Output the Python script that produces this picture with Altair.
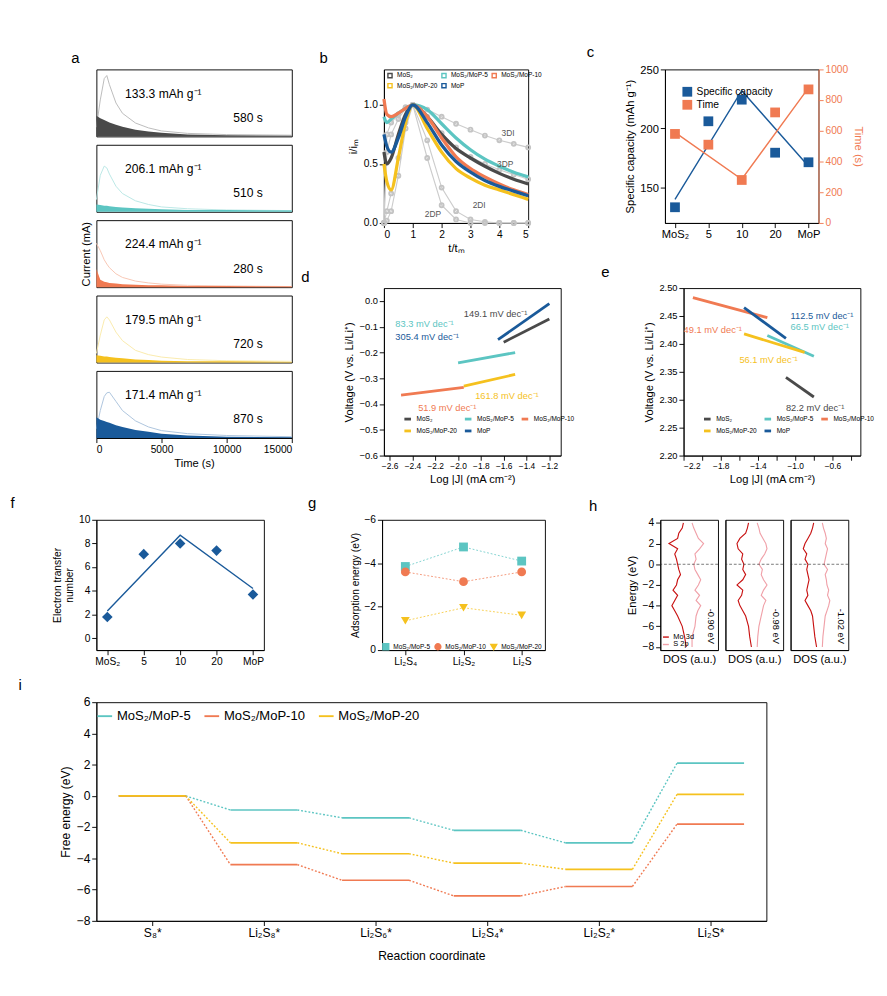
import altair as alt
import pandas as pd

F = "Liberation Sans"
NAMES = ["MoS₂", "MoS₂/MoP-5", "MoS₂/MoP-10", "MoS₂/MoP-20", "MoP"]
COLS = ["#4a4a4a", "#5cc5c2", "#f07a52", "#f5c11e", "#1a5a9a"]
LIGHT = ["#b8b8b8", "#b7e6e4", "#f8c4b0", "#faeaa8", "#a9c2dc"]
cscale = alt.Scale(domain=NAMES, range=COLS)

def ttl(letter, dx):
    return alt.TitleParams(letter, anchor="start", fontSize=16, fontWeight="normal", dx=dx)

# ---------- panel a ----------
a_t = [0, 300, 600, 800, 1000, 1500, 2000, 3000, 4000, 5000, 7000, 10000, 15000]
a_line = [
    [0.15, 0.6, 0.95, 1.0, 0.85, 0.55, 0.38, 0.22, 0.14, 0.09, 0.05, 0.03, 0.02],
    [0.2, 0.6, 0.75, 0.72, 0.62, 0.42, 0.3, 0.18, 0.12, 0.08, 0.05, 0.03, 0.02],
    [0.72, 0.6, 0.45, 0.38, 0.32, 0.22, 0.16, 0.1, 0.07, 0.05, 0.03, 0.02, 0.01],
    [0.15, 0.45, 0.7, 0.75, 0.7, 0.5, 0.36, 0.2, 0.13, 0.09, 0.05, 0.03, 0.02],
    [0.15, 0.45, 0.68, 0.74, 0.75, 0.6, 0.45, 0.28, 0.18, 0.12, 0.07, 0.04, 0.02],
]
a_area = [
    [0.34, 0.3, 0.27, 0.25, 0.23, 0.19, 0.16, 0.11, 0.08, 0.06, 0.03, 0.02, 0.01],
    [0.12, 0.11, 0.1, 0.1, 0.09, 0.08, 0.07, 0.06, 0.05, 0.04, 0.03, 0.03, 0.02],
    [0.3, 0.12, 0.09, 0.08, 0.07, 0.06, 0.05, 0.04, 0.03, 0.03, 0.02, 0.02, 0.01],
    [0.12, 0.11, 0.1, 0.1, 0.09, 0.08, 0.07, 0.05, 0.04, 0.03, 0.02, 0.02, 0.01],
    [0.34, 0.3, 0.28, 0.26, 0.25, 0.21, 0.18, 0.13, 0.1, 0.07, 0.04, 0.02, 0.01],
]
a_cap = ["133.3 mAh g⁻¹", "206.1 mAh g⁻¹", "224.4 mAh g⁻¹", "179.5 mAh g⁻¹", "171.4 mAh g⁻¹"]
a_time = ["580 s", "510 s", "280 s", "720 s", "870 s"]

a_panels = []
for k in range(5):
    d = pd.DataFrame({"t": a_t, "l": a_line[k], "a": a_area[k]})
    last = k == 4
    xax = alt.Axis(title="Time (s)", tickCount=3, format="d", grid=False) if last else None
    yt = "Current (mA)" if k == 2 else None
    x = alt.X("t:Q", scale=alt.Scale(domain=[0, 15000], nice=False), axis=xax)
    y = alt.Y("l:Q", scale=alt.Scale(domain=[0, 1.08]), axis=alt.Axis(title=yt, labels=False, ticks=False, grid=False, domain=False))
    base = alt.Chart(d)
    line = base.mark_line(color=LIGHT[k], strokeWidth=1).encode(x=x, y=y)
    area = base.mark_area(color=COLS[k]).encode(x=x, y=alt.Y("a:Q"))
    txt = pd.DataFrame({"t": [2200, 10500], "v": [0.7, 0.3], "s": [a_cap[k], a_time[k]]})
    tx = alt.Chart(txt).mark_text(align="left", fontSize=13, font=F).encode(x="t:Q", y="v:Q", text="s:N")
    p = alt.layer(line, area, tx).properties(width=210, height=72)
    if k == 0:
        p = p.properties(title=ttl("a", -25))
    a_panels.append(p)
panel_a = alt.vconcat(*a_panels, spacing=6)

# ---------- panel b ----------
b_t = [0, 0.1, 0.25, 0.5, 0.75, 1, 1.5, 2, 2.5, 3, 3.5, 4, 4.5, 5]
b_vals = {
    "MoS₂": [0.6, 0.5, 0.55, 0.75, 0.92, 1, 0.9, 0.75, 0.63, 0.55, 0.48, 0.42, 0.37, 0.33],
    "MoS₂/MoP-5": [0.9, 0.85, 0.88, 0.93, 0.97, 1, 0.96, 0.84, 0.72, 0.62, 0.54, 0.48, 0.43, 0.39],
    "MoS₂/MoP-10": [1.05, 0.92, 0.9, 0.93, 0.97, 1, 0.9, 0.72, 0.56, 0.46, 0.39, 0.33, 0.28, 0.24],
    "MoS₂/MoP-20": [0.5, 0.35, 0.28, 0.55, 0.85, 1, 0.8, 0.6, 0.46, 0.38, 0.32, 0.28, 0.24, 0.2],
    "MoP": [0.75, 0.65, 0.6, 0.72, 0.9, 1, 0.85, 0.66, 0.52, 0.43, 0.36, 0.31, 0.27, 0.23],
}
b_theory = {
    "3DI": [0, 0.75, 0.85, 0.92, 0.98, 1, 0.96, 0.9, 0.84, 0.79, 0.74, 0.7, 0.67, 0.64],
    "3DP": [0, 0.6, 0.75, 0.88, 0.97, 1, 0.9, 0.76, 0.64, 0.56, 0.5, 0.45, 0.41, 0.37],
    "2DI": [0, 0.1, 0.25, 0.55, 0.85, 1, 0.7, 0.3, 0.1, 0.03, 0.01, 0, 0, 0],
    "2DP": [0, 0.02, 0.1, 0.4, 0.8, 1, 0.55, 0.15, 0.03, 0, 0, 0, 0, 0],
}
rows = [{"s": s, "t": t, "v": v} for s, vs in b_vals.items() for t, v in zip(b_t, vs)]
trows = [{"s": s, "t": t, "v": v} for s, vs in b_theory.items() for t, v in zip(b_t, vs)]
bx = alt.X("t:Q", scale=alt.Scale(domain=[0, 5]), axis=alt.Axis(title="t/tₘ", grid=False, tickCount=5))
by = alt.Y("v:Q", scale=alt.Scale(domain=[0, 1.25]), axis=alt.Axis(title="i/iₘ", grid=False, values=[0, 0.5, 1.0], format=".1f"))
b_th = alt.Chart(pd.DataFrame(trows)).mark_line(color="#cccccc", strokeWidth=1.2, point=alt.OverlayMarkDef(filled=False, color="#c4c4c4", size=18)).encode(x=bx, y=by, detail="s:N")
b_ln = alt.Chart(pd.DataFrame(rows)).mark_line(strokeWidth=3.5, interpolate="monotone").encode(
    x=bx, y=by, color=alt.Color("s:N", scale=cscale, legend=alt.Legend(title=None, orient="top-left", direction="horizontal", columns=3, labelFontSize=7, labelLimit=48, symbolType="square", symbolSize=20, columnPadding=1, rowPadding=0, padding=1, offset=2)))
b_lab = pd.DataFrame({"t": [4.3, 4.2, 3.3, 1.7], "v": [0.76, 0.5, 0.15, 0.07], "s": ["3DI", "3DP", "2DI", "2DP"]})
b_tx = alt.Chart(b_lab).mark_text(fontSize=9, color="#555", font=F).encode(x="t:Q", y="v:Q", text="s:N")
panel_b = alt.layer(b_th, b_ln, b_tx).properties(width=155, height=165, title=ttl("b", -30))

# ---------- panel c ----------
c_cat = ["MoS₂", "5", "10", "20", "MoP"]
c_cap = [133.3, 206.1, 224.4, 179.5, 171.4]
c_time = [580, 510, 280, 720, 870]
c_fitcap = [140, None, 232, None, 168]
c_fittime = [590, None, 285, None, 880]
cd = pd.DataFrame({"c": c_cat, "cap": c_cap, "time": c_time, "k1": "Specific capacity", "k2": "Time"})
cf1 = pd.DataFrame({"c": [c for c, v in zip(c_cat, c_fitcap) if v], "cap": [v for v in c_fitcap if v]})
cf2 = pd.DataFrame({"c": [c for c, v in zip(c_cat, c_fittime) if v], "time": [v for v in c_fittime if v]})
cx = alt.X("c:N", sort=c_cat, axis=alt.Axis(title=None, labelAngle=0, labelFontSize=12), scale=alt.Scale(domain=c_cat, padding=0.3))
ccol = alt.Scale(domain=["Specific capacity", "Time"], range=["#1a5a9a", "#f07a52"])
y1 = alt.Y("cap:Q", scale=alt.Scale(domain=[125, 250]), axis=alt.Axis(title="Specific capacity (mAh g⁻¹)", tickCount=3, grid=False, titleFontSize=12, labelFontSize=12))
y2 = alt.Y("time:Q", scale=alt.Scale(domain=[0, 1000]), axis=alt.Axis(title="Time (s)", orient="right", tickCount=4, format="d", grid=False, titleColor="#f07a52", labelColor="#f07a52", domainColor="#f07a52", tickColor="#f07a52"))
c1 = alt.layer(
    alt.Chart(cd).mark_square(size=110, opacity=1).encode(x=cx, y=y1, color=alt.Color("k1:N", scale=ccol, legend=alt.Legend(title=None, orient="top-left", labelFontSize=11, symbolSize=110))),
    alt.Chart(cf1).mark_line(color="#1a5a9a", strokeWidth=1.5).encode(x=cx, y="cap:Q"),
)
c2 = alt.layer(
    alt.Chart(cd).mark_square(size=110, opacity=1).encode(x=cx, y=y2, color=alt.Color("k2:N", scale=ccol)),
    alt.Chart(cf2).mark_line(color="#f07a52", strokeWidth=1.5).encode(x=cx, y="time:Q"),
)
panel_c = alt.layer(c1, c2).resolve_scale(y="independent").properties(width=165, height=165, title=ttl("c", -40))

# ---------- panels d, e ----------
def tafel(seg, labs, xd, yd, xtc, ytc, letter, yfmt):
    rows = []
    for s, (x1, y1_, x2, y2_) in zip(NAMES, seg):
        rows += [{"s": s, "x": x1, "y": y1_}, {"s": s, "x": x2, "y": y2_}]
    X = alt.X("x:Q", scale=alt.Scale(domain=xd, nice=False), axis=alt.Axis(title="Log |J| (mA cm⁻²)", tickCount=xtc, format=".1f", grid=False, labelFontSize=9))
    Y = alt.Y("y:Q", scale=alt.Scale(domain=yd, nice=False), axis=alt.Axis(title="Voltage (V vs. Li/Li⁺)", tickCount=ytc, format=yfmt, grid=False, labelFontSize=10))
    ln = alt.Chart(pd.DataFrame(rows)).mark_line(strokeWidth=3).encode(
        x=X, y=Y, color=alt.Color("s:N", scale=cscale, legend=alt.Legend(title=None, orient="bottom-left", direction="horizontal", columns=3, labelFontSize=7, labelLimit=52, symbolType="stroke", symbolStrokeWidth=3, symbolSize=50, columnPadding=1, rowPadding=0, padding=2)))
    ld = pd.DataFrame({"s": NAMES, "x": [l[0] for l in labs], "y": [l[1] for l in labs], "t": [l[2] for l in labs]})
    tx = alt.Chart(ld).mark_text(fontSize=10, align="left", font=F).encode(x="x:Q", y="y:Q", text="t:N", color=alt.Color("s:N", scale=cscale, legend=None))
    return alt.layer(ln, tx).properties(width=190, height=180, title=ttl(letter, -45))

d_seg = [(-1.6, -0.16, -1.2, -0.07), (-2.0, -0.24, -1.5, -0.2), (-2.5, -0.365, -1.95, -0.335), (-1.95, -0.33, -1.5, -0.285), (-1.65, -0.15, -1.2, -0.01)]
d_lab = [(-1.95, -0.05, "149.1 mV dec⁻¹"), (-2.55, -0.09, "83.3 mV dec⁻¹"), (-2.35, -0.415, "51.9 mV dec⁻¹"), (-1.85, -0.37, "161.8 mV dec⁻¹"), (-2.55, -0.14, "305.4 mV dec⁻¹")]
panel_d = tafel(d_seg, d_lab, [-2.65, -1.1], [-0.6, 0.05], 8, 7, "d", ".1f")
e_seg = [(-1.1, 2.34, -0.8, 2.305), (-1.3, 2.415, -0.8, 2.378), (-2.1, 2.483, -1.3, 2.447), (-1.55, 2.418, -0.9, 2.385), (-1.55, 2.465, -1.1, 2.41)]
e_lab = [(-1.1, 2.285, "82.2 mV dec⁻¹"), (-1.05, 2.43, "66.5 mV dec⁻¹"), (-2.2, 2.425, "49.1 mV dec⁻¹"), (-1.6, 2.37, "56.1 mV dec⁻¹"), (-1.05, 2.45, "112.5 mV dec⁻¹")]
panel_e = tafel(e_seg, e_lab, [-2.2, -0.3], [2.2, 2.5], 10, 7, "e", ".2f")

# ---------- panel f ----------
f_val = [1.8, 7.1, 8.0, 7.4, 3.7]
f_fit = [2.3, None, 8.7, None, 4.2]
fd = pd.DataFrame({"c": c_cat, "v": f_val})
ff = pd.DataFrame({"c": [c for c, v in zip(c_cat, f_fit) if v], "v": [v for v in f_fit if v]})
fx = alt.X("c:N", sort=c_cat, axis=alt.Axis(title=None, labelAngle=0), scale=alt.Scale(domain=c_cat, padding=0.3))
fy = alt.Y("v:Q", scale=alt.Scale(domain=[-1, 10], nice=False), axis=alt.Axis(title=["Electron transfer", "number"], tickCount=6, grid=False, titleFontSize=11))
panel_f = alt.layer(
    alt.Chart(fd).mark_point(shape="diamond", filled=True, size=130, color="#1a5a9a", opacity=1).encode(x=fx, y=fy),
    alt.Chart(ff).mark_line(color="#1a5a9a", strokeWidth=1.5).encode(x=fx, y="v:Q"),
).properties(width=180, height=140, title=ttl("f", -45))

# ---------- panel g ----------
g_cat = ["Li₂S₄", "Li₂S₂", "Li₂S"]
g_vals = {"MoS₂/MoP-5": [-3.85, -4.75, -4.1], "MoS₂/MoP-10": [-3.6, -3.15, -3.6], "MoS₂/MoP-20": [-1.35, -1.95, -1.6]}
gd = pd.DataFrame([{"s": s, "c": c, "v": v} for s, vs in g_vals.items() for c, v in zip(g_cat, vs)])
gs = alt.Scale(domain=list(g_vals), range=COLS[1:4])
gx = alt.X("c:N", sort=g_cat, axis=alt.Axis(title=None, labelAngle=0), scale=alt.Scale(domain=g_cat, padding=0.4))
gy = alt.Y("v:Q", scale=alt.Scale(domain=[-6, 0], reverse=True), axis=alt.Axis(title="Adsorption energy (eV)", tickCount=3, grid=False, titleFontSize=11))
panel_g = alt.layer(
    alt.Chart(gd).mark_point(filled=True, size=90, opacity=1).encode(
        x=gx, y=gy, color=alt.Color("s:N", scale=gs, legend=alt.Legend(title=None, orient="bottom", direction="horizontal", columns=3, labelFontSize=7, labelLimit=55, columnPadding=1, offset=-26, symbolSize=40)),
        shape=alt.Shape("s:N", scale=alt.Scale(domain=list(g_vals), range=["square", "circle", "triangle-down"]))),
    alt.Chart(gd).mark_line(strokeWidth=0.8, strokeDash=[2, 2]).encode(x=gx, y="v:Q", color=alt.Color("s:N", scale=gs, legend=None)),
).properties(width=175, height=140, title=ttl("g", -45))

# ---------- panel h ----------
h_E = [-8, -7, -6, -5, -4.5, -4, -3.5, -3, -2.5, -2, -1.5, -1, -0.5, 0, 0.5, 1, 1.5, 2, 2.5, 3, 3.5, 4]
h_red = [
    [0.45, 0.42, 0.38, 0.3, 0.25, 0.2, 0.25, 0.3, 0.22, 0.28, 0.3, 0.35, 0.32, 0.3, 0.28, 0.25, 0.3, 0.15, 0.3, 0.32, 0.38, 0.4],
    [0.45, 0.42, 0.4, 0.35, 0.3, 0.25, 0.22, 0.28, 0.3, 0.2, 0.3, 0.35, 0.3, 0.32, 0.28, 0.3, 0.22, 0.2, 0.25, 0.35, 0.38, 0.4],
    [0.45, 0.42, 0.4, 0.38, 0.35, 0.3, 0.25, 0.3, 0.28, 0.3, 0.32, 0.3, 0.28, 0.3, 0.25, 0.28, 0.22, 0.25, 0.3, 0.35, 0.38, 0.4],
]
h_pink = [
    [0.55, 0.55, 0.6, 0.62, 0.65, 0.7, 0.62, 0.68, 0.6, 0.66, 0.7, 0.65, 0.6, 0.58, 0.62, 0.6, 0.68, 0.75, 0.66, 0.62, 0.58, 0.55],
    [0.55, 0.56, 0.58, 0.62, 0.64, 0.66, 0.7, 0.62, 0.66, 0.72, 0.66, 0.62, 0.64, 0.58, 0.62, 0.68, 0.72, 0.7, 0.65, 0.6, 0.58, 0.55],
    [0.55, 0.56, 0.58, 0.6, 0.63, 0.66, 0.68, 0.64, 0.66, 0.63, 0.62, 0.6, 0.64, 0.58, 0.6, 0.62, 0.64, 0.6, 0.62, 0.6, 0.57, 0.55],
]
h_grey = [
    [0.5, 0.5, 0.52, 0.55, 0.58, 0.6, 0.55, 0.62, 0.56, 0.58, 0.6, 0.55, 0.52, 0.5, 0.52, 0.55, 0.6, 0.65, 0.56, 0.52, 0.5, 0.5],
    [0.5, 0.5, 0.52, 0.55, 0.6, 0.58, 0.62, 0.56, 0.7, 0.58, 0.55, 0.56, 0.54, 0.5, 0.6, 0.56, 0.58, 0.7, 0.56, 0.52, 0.5, 0.5],
    [0.5, 0.5, 0.52, 0.54, 0.56, 0.75, 0.85, 0.6, 0.62, 0.58, 0.56, 0.55, 0.6, 0.5, 0.9, 0.56, 0.58, 0.62, 0.56, 0.52, 0.85, 0.5],
]
h_eV = ["-0.90 eV", "-0.98 eV", "-1.02 eV"]
hcs = alt.Scale(domain=["Mo 3d", "S 2p"], range=["#c81010", "#f0a0a8"])
h_panels = []
for k in range(3):
    rows = []
    for e, r, p, g in zip(h_E, h_red[k], h_pink[k], h_grey[k]):
        rows += [{"E": e, "x": r, "s": "Mo 3d"}, {"E": e, "x": p, "s": "S 2p"}, {"E": e, "x": g, "s": "g"}]
    hd = pd.DataFrame(rows)
    hy = alt.Y("E:Q", scale=alt.Scale(domain=[-8.3, 4.3], nice=False), axis=alt.Axis(title="Energy (eV)" if k == 0 else None, tickCount=7, labels=k == 0, ticks=k == 0, grid=False))
    hx = alt.X("x:Q", scale=alt.Scale(domain=[0, 1]), axis=alt.Axis(title="DOS (a.u.)", labels=False, ticks=False, grid=False))
    grey = alt.Chart(hd[hd.s == "g"]).mark_area(orient="horizontal", color="#c8c8c8").encode(y=hy, x=hx, x2=alt.datum(0.5), order="E:Q")
    lines = alt.Chart(hd[hd.s != "g"]).mark_line(strokeWidth=1.2).encode(
        y="E:Q", x="x:Q", order="E:Q",
        color=alt.Color("s:N", scale=hcs, legend=alt.Legend(title=None, orient="bottom-left", labelFontSize=8, symbolType="stroke", symbolSize=40, rowPadding=0, padding=1, offset=1) if k == 0 else None))
    zero = alt.Chart(pd.DataFrame({"E": [0]})).mark_rule(strokeDash=[3, 2], color="#333", strokeWidth=0.7).encode(y="E:Q")
    ev = alt.Chart(pd.DataFrame({"x": [0.87], "E": [-6.0], "t": [h_eV[k]]})).mark_text(angle=90, fontSize=10, font=F).encode(x="x:Q", y="E:Q", text="t:N")
    p = alt.layer(grey, lines, zero, ev).properties(width=62, height=140)
    if k == 0:
        p = p.properties(title=ttl("h", -40))
    h_panels.append(p)
panel_h = alt.hconcat(*h_panels, spacing=6).resolve_scale(color="independent")

# ---------- panel i ----------
i_cat = ["S₈*", "Li₂S₈*", "Li₂S₆*", "Li₂S₄*", "Li₂S₂*", "Li₂S*"]
i_vals = {
    "MoS₂/MoP-5": [0, -0.9, -1.4, -2.2, -3.0, 2.1],
    "MoS₂/MoP-10": [0, -4.4, -5.4, -6.4, -5.8, -1.8],
    "MoS₂/MoP-20": [0, -3.0, -3.7, -4.3, -4.7, 0.1],
}
iseg, idot = [], []
for s, vs in i_vals.items():
    for j, v in enumerate(vs):
        iseg.append({"s": s, "x1": j - 0.3, "x2": j + 0.3, "v": v})
        if j < len(vs) - 1:
            idot.append({"s": s, "x1": j + 0.3, "x2": j + 0.7, "v": v, "v2": vs[j + 1]})
isc = alt.Scale(domain=list(i_vals), range=COLS[1:4])
lab_expr = "[" + ",".join("'%s'" % c for c in i_cat) + "][datum.value]"
ix = alt.X("x1:Q", scale=alt.Scale(domain=[-0.5, 5.5], nice=False), axis=alt.Axis(title="Reaction coordinate", values=[0, 1, 2, 3, 4, 5], labelExpr=lab_expr, grid=False, labelFontSize=13, titleFontSize=13, titlePadding=12))
iy = alt.Y("v:Q", scale=alt.Scale(domain=[-8, 6], nice=False), axis=alt.Axis(title="Free energy (eV)", tickCount=8, grid=False, labelFontSize=13, titleFontSize=13))
panel_i = alt.layer(
    alt.Chart(pd.DataFrame(iseg)).mark_rule(strokeWidth=1.8).encode(x=ix, x2="x2:Q", y=iy, color=alt.Color("s:N", scale=isc, legend=alt.Legend(title=None, orient="top", direction="horizontal", labelFontSize=14, symbolType="stroke", symbolStrokeWidth=2, symbolSize=250, offset=-22))),
    alt.Chart(pd.DataFrame(idot)).mark_rule(strokeDash=[2, 2], strokeWidth=1.5).encode(x="x1:Q", x2="x2:Q", y="v:Q", y2="v2:Q", color=alt.Color("s:N", scale=isc, legend=None)),
).properties(width=720, height=235, title=ttl("i", -45))

row_bc = alt.hconcat(panel_b, panel_c, spacing=45).resolve_scale(color="independent")
row_de = alt.hconcat(panel_d, panel_e, spacing=25).resolve_scale(color="independent")
right_top = alt.vconcat(row_bc, row_de, spacing=10).resolve_scale(color="independent")
top = alt.hconcat(panel_a, right_top, spacing=6).resolve_scale(color="independent")
mid = alt.hconcat(panel_f, panel_g, panel_h, spacing=45).resolve_scale(color="independent", shape="independent")
chart = alt.vconcat(top, mid, panel_i, spacing=10).resolve_scale(color="independent", shape="independent").properties(
    padding=2
).configure_view(
    stroke="black", strokeWidth=1
).configure_axis(
    domainColor="black", tickColor="black", labelColor="black", titleColor="black", labelFont=F, titleFont=F,
    titleFontWeight="normal", labelFontSize=11, titleFontSize=12
).configure_legend(labelFont=F).configure_title(font=F)

chart.save("out.html", embed_options={"renderer": "svg", "actions": False})
